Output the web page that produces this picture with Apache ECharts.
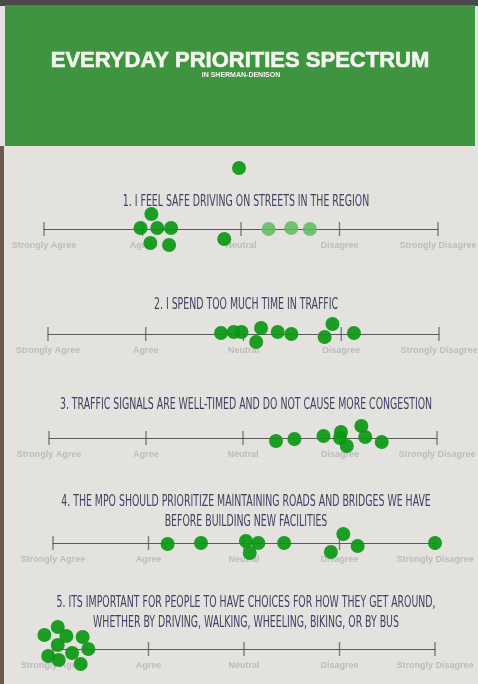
<!DOCTYPE html>
<html>
<head>
<meta charset="utf-8">
<script src="https://cdn.jsdelivr.net/npm/echarts@6/dist/echarts.min.js"></script>
<style>
  html, body { margin: 0; padding: 0; background: #e4e2df; }
  #chart { width: 478px; height: 684px; }
</style>
</head>
<body>
<div id="chart"></div>
<script>
// spectrum positions, 0 = Strongly Agree ... 4 = Strongly Disagree
const scaleLabels = ['Strongly Agree', 'Agree', 'Neutral', 'Disagree', 'Strongly Disagree']
const tickValues = [0, 1, 2, 3, 4]

const questions = [
  '1. I FEEL SAFE DRIVING ON STREETS IN THE REGION',
  '2. I SPEND TOO MUCH TIME IN TRAFFIC',
  '3. TRAFFIC SIGNALS ARE WELL-TIMED AND DO NOT CAUSE MORE CONGESTION',
  '4. THE MPO SHOULD PRIORITIZE MAINTAINING ROADS AND BRIDGES WE HAVE\nBEFORE BUILDING NEW FACILITIES',
  '5. ITS IMPORTANT FOR PEOPLE TO HAVE CHOICES FOR HOW THEY GET AROUND,\nWHETHER BY DRIVING, WALKING, WHEELING, BIKING, OR BY BUS'
]

// dot stickers: x = spot on the spectrum, y = how far the sticker sits off the line
const q1X = [1.09, 0.98, 1.15, 1.29, 1.08, 1.27, 1.83, 1.98]
const q1Y = [15, 1, 1, 1, -14, -16, -10, 61]
const q1FadedX = [2.28, 2.51, 2.70]
const q1FadedY = [0, 1, 0]

const q2X = [1.77, 1.90, 1.98, 2.18, 2.13, 2.35, 2.49, 2.91, 2.83, 3.13]
const q2Y = [1, 2, 2, 6, -8, 2, 0, 10, -3, 1]

const q3X = [2.34, 2.53, 2.83, 3.01, 3.00, 3.07, 3.22, 3.26, 3.43]
const q3Y = [-3, -1, 2, 6, 0, -8, 12, 1, -4]

const q4X = [1.20, 1.55, 2.02, 2.15, 2.06, 2.42, 3.04, 2.91, 3.19, 4.00]
const q4Y = [-1, 0, 2, 0, -10, 0, 9, -9, -3, 0]

const q5X = [0.05, -0.09, 0.14, 0.31, 0.05, 0.37, 0.20, -0.05, 0.06, 0.29]
const q5Y = [22, 14, 13, 12, 4, 0, -4, -7, -11, -15]

const dotsX = [q1X, q2X, q3X, q4X, q5X]
const dotsY = [q1Y, q2Y, q3Y, q4Y, q5Y]

// page layout (photo is a bit skewed so every line sits slightly different)
const lineY = [229, 334, 438, 543, 649]
const gridLeft = [44, 48, 49, 53, 53]
const gridRight = [40, 39, 41, 43, 43]
const titleY = [202, 305, 405, 512, 613]

const pair = (xs, ys) => xs.map((x, i) => [x, ys[i]])

const chart = echarts.init(document.getElementById('chart'))

const grid = [], xAxis = [], yAxis = [], series = []
lineY.forEach((ly, i) => {
  // grid bottom edge = the spectrum line, 1 y-unit = 1px
  grid.push({ left: gridLeft[i], right: gridRight[i], top: ly - 70, height: 70, outerBoundsMode: 'none', containLabel: false })
  xAxis.push({
    gridIndex: i,
    type: 'value',
    min: 0,
    max: 4,
    interval: 1,
    axisLine: { onZero: false, lineStyle: { color: '#5a5a5a', width: 1.2 } },
    axisTick: { show: false },
    splitLine: { show: false },
    axisLabel: {
      margin: 12,
      color: '#bcbcbc',
      fontFamily: 'Liberation Sans',
      fontWeight: 'bold',
      fontSize: 9,
      formatter: v => scaleLabels[v] || ''
    }
  })
  yAxis.push({ gridIndex: i, type: 'value', min: 0, max: 70, show: false })
  series.push({
    type: 'scatter',
    xAxisIndex: i,
    yAxisIndex: i,
    symbol: 'rect',
    symbolSize: [1.3, 14],
    silent: true,
    clip: false,
    z: 1,
    itemStyle: { color: '#5a5a5a' },
    data: tickValues.map(v => [v, 0])
  })
  series.push({
    type: 'scatter',
    xAxisIndex: i,
    yAxisIndex: i,
    symbolSize: 14,
    clip: false,
    z: 3,
    itemStyle: { color: '#0b9712', opacity: 0.92 },
    data: pair(dotsX[i], dotsY[i])
  })
})
series.push({
  type: 'scatter',
  xAxisIndex: 0,
  yAxisIndex: 0,
  symbolSize: 14,
  clip: false,
  z: 2,
  itemStyle: { color: '#5dbb5f', opacity: 0.85 },
  data: pair(q1FadedX, q1FadedY)
})

const titleFont = '15px "Liberation Sans Narrow", "DejaVu Sans Condensed", sans-serif'
const graphic = [
  { type: 'rect', shape: { x: 0, y: 0, width: 478, height: 6 }, style: { fill: '#4b4a47' }, z: -10 },
  { type: 'rect', shape: { x: 5, y: 5, width: 470, height: 141 }, style: { fill: '#3f943f' }, z: -10 },
  { type: 'rect', shape: { x: 0, y: 146, width: 4, height: 538 }, style: { fill: '#6a5a4a' }, z: -10 },
  {
    type: 'text', x: 240, y: 61,
    style: {
      text: 'EVERYDAY PRIORITIES SPECTRUM', fill: '#f4f4f0',
      font: 'bold 22px "Liberation Sans", Arial, sans-serif',
      stroke: '#f4f4f0', lineWidth: 0.6,
      textAlign: 'center', textVerticalAlign: 'middle'
    }
  },
  {
    type: 'text', x: 241, y: 75,
    style: {
      text: 'IN SHERMAN-DENISON', fill: '#f4f4f0',
      font: 'bold 7px "Liberation Sans", Arial, sans-serif',
      textAlign: 'center', textVerticalAlign: 'middle'
    }
  }
]
questions.forEach((q, i) => {
  graphic.push({
    type: 'text', x: 246, y: titleY[i], scaleX: 0.695,
    style: {
      text: q, fill: '#3e4262', font: titleFont, lineHeight: 20,
      textAlign: 'center', textVerticalAlign: 'middle'
    }
  })
})

chart.setOption({
  backgroundColor: '#e4e2df',
  animation: false,
  grid: grid,
  xAxis: xAxis,
  yAxis: yAxis,
  graphic: graphic,
  series: series
})
</script>
</body>
</html>
